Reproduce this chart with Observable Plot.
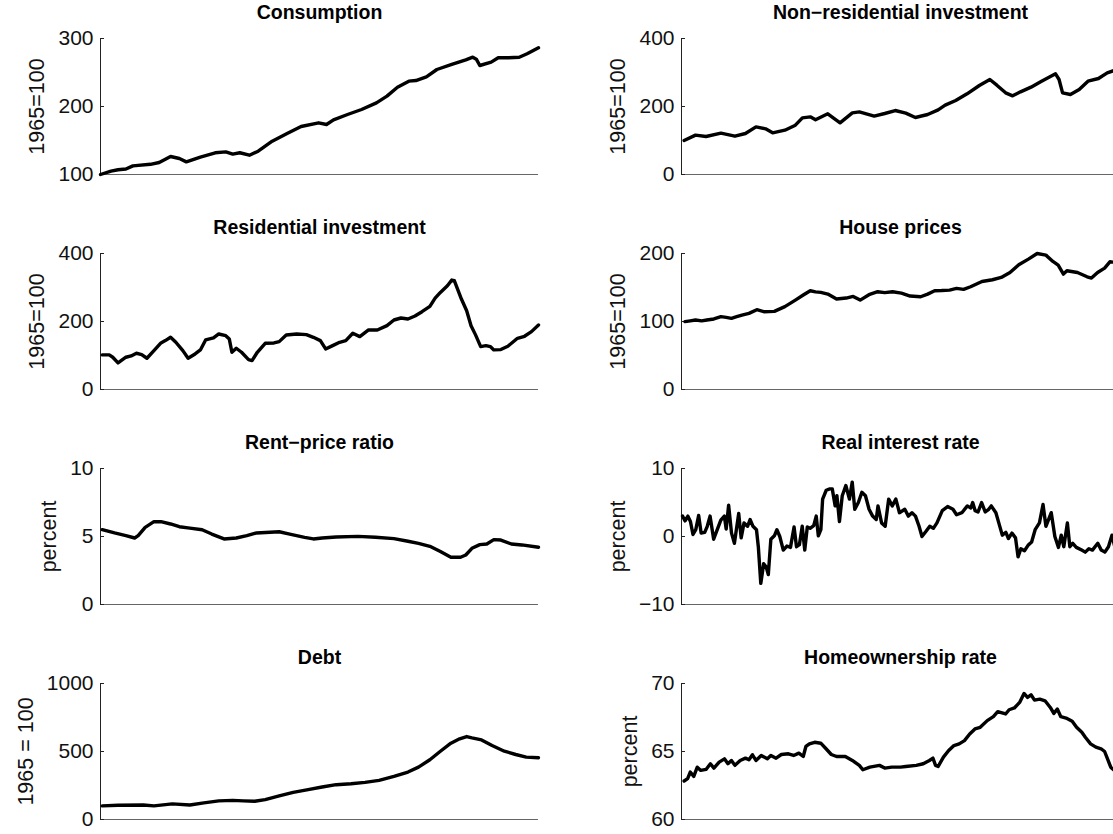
<!DOCTYPE html>
<html><head><meta charset="utf-8">
<script src="https://cdn.jsdelivr.net/npm/d3@7"></script>
<script src="https://cdn.jsdelivr.net/npm/@observablehq/plot@0.6"></script>
<style>
html,body{margin:0;padding:0;background:#fff;overflow:hidden;}
#chart{position:relative;width:1113px;height:834px;overflow:hidden;background:#fff;}
#chart svg{position:absolute;overflow:visible;}
</style></head><body><div id="chart"></div>
<script>
// ---------- data (decimal years, values) ----------
const consumptionYears = [1965.0,1966.2,1967.0,1967.9,1968.7,1970.7,1971.7,1973.0,1974.0,1974.8,1976.4,1978.1,1979.3,1980.1,1980.9,1982.0,1983.0,1984.6,1986.3,1987.9,1989.9,1990.8,1991.6,1993.2,1994.8,1996.5,1997.7,1998.9,2000.2,2001.0,2002.2,2003.4,2005.1,2006.7,2007.5,2007.9,2008.3,2009.6,2010.4,2011.6,2012.8,2013.7,2015.0];
const consumptionValues = [100,104.9,107,108,112.7,115,117.6,126.5,123.5,118.6,125.5,131.9,133.3,130,132,128.4,134.3,149,160.3,170.6,176,173.5,180.4,188.2,195.6,205.4,215.2,228.4,237.3,238.2,243.6,254.4,261.8,268.6,272.5,269.6,260.3,265.2,271.6,271.6,272.5,277.5,286.3];

const nonresYears = [1965.3,1966.6,1967.8,1969.5,1971.1,1972.3,1973.5,1974.6,1975.4,1976.8,1978.0,1978.8,1979.7,1980.3,1981.7,1983.1,1984.5,1985.3,1987.0,1988.2,1989.4,1990.6,1991.7,1993.1,1994.3,1995.1,1996.3,1997.6,1999.0,2000.2,2001.0,2002.0,2002.8,2003.7,2004.9,2006.1,2007.7,2008.1,2008.5,2009.4,2010.4,2011.4,2012.6,2013.6,2014.4,2015.0];
const nonresValues = [100,115.7,111.8,121.6,112.7,120.6,140.2,134.3,122.5,130.4,145,166.7,169.6,160.8,178.4,152,181.4,184.3,171.6,179.4,188.2,180.4,167.6,176.5,190.2,203.9,217.6,237.3,261.8,279.4,262.7,240.2,231.4,243.1,256.9,274.5,296.1,279.4,240.2,235.3,250,274.5,282.4,299,305.9,296];

const resYears = [1965.2,1966.0,1966.4,1967.0,1967.9,1968.5,1969.1,1969.7,1970.3,1971.1,1971.9,1972.4,1973.0,1973.6,1974.4,1975.0,1975.8,1976.4,1977.0,1977.9,1978.5,1979.3,1979.7,1980.0,1980.5,1981.1,1981.9,1982.3,1982.9,1983.8,1984.8,1985.4,1986.2,1987.4,1988.5,1989.3,1990.1,1990.7,1991.5,1992.3,1993.0,1993.8,1994.6,1995.6,1996.6,1997.7,1998.5,1999.3,2000.1,2000.9,2001.7,2002.6,2003.2,2003.8,2004.6,2005.1,2005.4,2006.2,2006.8,2007.3,2007.8,2008.4,2009.0,2009.5,2009.9,2010.7,2011.5,2012.6,2013.4,2014.2,2015.0];
const resValues = [101.7,101.7,94.9,78.2,94.9,98.8,106.6,102.7,91.9,114.4,136.9,143.8,153.5,138.9,114.4,91.9,104.6,116.4,145.7,151.6,163.3,158.4,148.7,109.5,121.3,109.5,88,85.1,109.5,135.9,136.9,140.8,160.4,163.3,161.4,153.5,143.8,119.3,129.1,138.9,143.8,165.3,155.5,175.1,175.1,187.8,204.4,210.3,207.3,216.1,228.8,244.5,269,285.6,305.1,321.8,319.8,266,231.8,187.8,161.4,126.2,129.1,126.2,116.4,117.4,127.1,150.6,156.5,170.2,189.7];

const houseYears = [1965.4,1966.0,1966.6,1967.3,1967.9,1968.7,1969.5,1970.1,1970.7,1971.3,1971.9,1972.7,1973.6,1974.4,1975.6,1976.8,1978.0,1978.9,1979.7,1980.3,1980.9,1981.7,1982.7,1983.8,1984.6,1985.4,1986.4,1987.4,1988.2,1989.1,1990.1,1991.1,1992.3,1993.1,1993.9,1994.7,1995.6,1996.4,1997.2,1998.0,1999.3,2000.5,2001.5,2002.5,2003.5,2004.6,2005.6,2006.6,2007.4,2008.0,2008.6,2009.0,2010.2,2011.3,2011.8,2012.5,2013.3,2013.9,2014.7,2015.0];
const houseValues = [99.8,101,102.2,101,102.2,103.7,107.1,106,104.6,107,109.5,112,117.4,114.4,114.9,121.8,131.5,138.9,145.2,143.5,142.8,140.3,133,134.5,136.9,131.5,139.4,143.8,142.5,143.8,141.8,137.4,136.4,140.3,145.2,145.5,146.2,148.7,147.2,151.1,158.9,161.4,164.8,172.1,183.4,191.7,200,197.6,188.3,182.9,169.7,174.6,172.1,165.8,163.8,172.1,178.5,187.8,186.8,199];

const rentYears = [1965.2,1966.6,1967.9,1968.9,1969.3,1970.1,1971.1,1971.9,1973.0,1974.0,1975.2,1976.6,1977.7,1979.1,1980.5,1981.7,1982.8,1985.4,1986.6,1988.3,1989.3,1990.3,1991.9,1994.4,1996.4,1998.5,2000.1,2001.3,2002.6,2003.8,2005.0,2006.1,2006.7,2007.4,2008.3,2009.1,2009.9,2010.7,2011.9,2013.1,2015.0];
const rentValues = [5.5,5.26,5.06,4.89,5.06,5.67,6.09,6.09,5.92,5.72,5.62,5.5,5.18,4.82,4.89,5.06,5.26,5.35,5.18,4.94,4.82,4.89,4.96,5.01,4.94,4.84,4.65,4.5,4.28,3.89,3.47,3.47,3.64,4.13,4.4,4.45,4.77,4.74,4.45,4.38,4.21];

const rateYears = [1965.12,1965.41,1965.73,1966.02,1966.31,1966.63,1966.96,1967.24,1967.65,1967.94,1968.26,1968.67,1969.08,1969.49,1969.89,1970.10,1970.38,1970.71,1971.04,1971.53,1971.81,1972.14,1972.54,1972.83,1973.16,1973.56,1973.77,1974.05,1974.38,1974.67,1974.91,1975.20,1975.60,1975.89,1976.22,1976.62,1977.03,1977.44,1977.85,1978.13,1978.46,1978.78,1979.07,1979.36,1979.68,1980.09,1980.38,1980.62,1980.91,1981.11,1981.52,1981.93,1982.21,1982.54,1982.74,1983.03,1983.35,1983.76,1984.17,1984.49,1984.78,1985.19,1985.59,1986.00,1986.41,1986.82,1987.23,1987.43,1987.84,1988.25,1988.65,1989.06,1989.47,1989.88,1990.49,1990.90,1991.31,1991.71,1992.12,1992.45,1992.94,1993.34,1993.75,1994.16,1994.77,1995.38,1995.99,1996.40,1997.01,1997.63,1998.03,1998.24,1998.52,1998.85,1999.26,1999.67,2000.07,2000.36,2000.89,2001.22,2001.62,2002.03,2002.32,2002.72,2003.13,2003.42,2003.74,2004.15,2004.56,2004.97,2005.37,2005.86,2006.27,2006.60,2007.21,2007.62,2008.03,2008.35,2008.64,2009.05,2009.33,2009.66,2010.07,2010.68,2011.09,2011.50,2011.91,2012.52,2012.92,2013.33,2013.74,2014.14,2014.55,2015.0];
const rateValues = [3.0,2.3,3.0,2.2,0.3,1.0,3.1,0.5,0.6,1.5,3.0,-0.4,1.0,2.4,3.0,1.1,4.6,0.5,-1.0,3.4,-0.2,2.0,1.5,2.5,1.5,1.0,-1.5,-6.9,-4.0,-4.5,-5.6,-0.4,0.1,1.0,0.0,-2.0,-1.4,-1.6,1.4,-1.5,-1.2,1.5,-2.0,1.4,1.2,1.6,3.0,0.1,1.0,5.5,6.8,7.0,7.0,4.5,6.0,2.2,6.0,7.5,5.5,8.0,4.0,5.0,6.5,6.0,4.0,3.0,2.5,4.5,2.0,1.5,5.5,4.5,5.5,3.5,4.0,3.0,3.5,3.0,1.5,0.0,0.8,1.5,1.2,2.0,3.8,4.4,4.0,3.2,3.5,4.5,4.2,5.0,3.8,3.6,5.0,3.6,4.0,4.5,3.5,2.0,0.2,0.6,-0.3,0.5,-0.2,-3.0,-1.8,-2.1,-1.3,-0.8,1.0,2.0,4.7,1.5,3.5,0.0,-1.6,0.2,-1.5,2.0,-1.5,-1.0,-1.6,-2.0,-2.3,-1.8,-2.0,-1.0,-2.0,-2.3,-1.5,0.2,-2.0,-0.4];

const debtYears = [1965.2,1967.0,1969.9,1971.1,1973.2,1975.2,1976.8,1978.5,1980.1,1981.3,1982.6,1983.8,1985.4,1987.0,1988.7,1990.3,1991.9,1993.6,1995.2,1996.8,1998.5,2000.1,2001.3,2002.6,2003.8,2005.0,2006.0,2006.8,2007.4,2008.5,2009.7,2011.1,2012.4,2013.6,2015.0];
const debtValues = [100,105,107,100,115,107,122,137,141,137,134,146,173,200,220,239,256,263,273,288,317,349,385,439,502,561,593,610,600,585,544,502,478,459,454];

const ownYears = [1965.3,1965.7,1966.0,1966.4,1966.8,1967.2,1967.8,1968.3,1968.7,1969.3,1969.9,1970.3,1970.7,1971.1,1971.7,1972.3,1972.7,1973.1,1973.5,1974.1,1974.8,1975.2,1975.8,1976.4,1977.2,1977.8,1978.4,1978.9,1979.2,1979.6,1980.2,1980.9,1981.5,1982.1,1982.7,1983.7,1984.5,1985.3,1985.7,1986.5,1987.6,1988.2,1989.0,1990.0,1990.6,1991.8,1992.6,1993.3,1993.7,1994.0,1994.3,1994.9,1995.5,1996.1,1996.7,1997.3,1997.9,1998.5,1999.1,1999.9,2000.6,2001.1,2002.0,2002.4,2003.0,2003.6,2004.1,2004.5,2004.9,2005.3,2005.9,2006.5,2007.1,2007.5,2007.9,2008.3,2008.9,2009.6,2010.1,2010.7,2011.1,2011.7,2012.3,2012.9,2013.3,2013.7,2014.0,2014.4,2015.0];
const ownValues = [62.83,63.0,63.49,63.17,63.85,63.61,63.68,64.1,63.78,64.22,64.46,64.1,64.34,63.98,64.34,64.51,64.39,64.76,64.34,64.71,64.46,64.71,64.51,64.78,64.83,64.71,64.88,64.63,65.37,65.56,65.68,65.61,65.2,64.78,64.63,64.63,64.34,63.98,63.66,63.85,63.98,63.78,63.85,63.85,63.9,63.98,64.1,64.34,64.51,63.98,63.9,64.59,65.07,65.44,65.56,65.8,66.29,66.66,66.78,67.27,67.56,67.93,67.76,68.07,68.2,68.61,69.27,68.98,69.17,68.78,68.85,68.73,68.24,67.8,68.12,67.56,67.46,67.22,66.78,66.41,66.05,65.56,65.32,65.2,65.0,64.34,63.85,63.61,63.66];

const titles = ["Consumption","Non\u2212residential investment","Residential investment","House prices","Rent\u2212price ratio","Real interest rate","Debt","Homeownership rate"];
const yLabels = ["1965=100","1965=100","1965=100","1965=100","percent","percent","1965 = 100","percent"];
const yTicks = [[100,200,300],[0,200,400],[0,200,400],[0,100,200],[0,5,10],[-10,0,10],[0,500,1000],[60,65,70]];
const xDomain = [1965, 2015];

const seriesYears = [consumptionYears,nonresYears,resYears,houseYears,rentYears,rateYears,debtYears,ownYears];
const seriesValues = [consumptionValues,nonresValues,resValues,houseValues,rentValues,rateValues,debtValues,ownValues];

// ---------- layout ----------
const FONT = "Liberation Sans, Arial, Helvetica, sans-serif";
const frameW = 438, frameH = 136;
const mL = 110, mT = 40, mB = 14, mR = 10;
const colLeft = [100 - mL, 681 - mL];
const rowTop = [38 - mT, 253 - mT, 468 - mT, 683 - mT];
const tickFont = 21, labelFont = 21.5, titleFont = 19.5;

const ctx = document.createElement("canvas").getContext("2d");
ctx.font = `${tickFont}px ${FONT}`;
const minusFmt = d => (d < 0 ? "\u2212" + Math.abs(d) : String(d));

const chart = document.getElementById("chart");
titles.forEach((title, i) => {
  const data = seriesYears[i].map((t, j) => ({t, v: seriesValues[i][j]}));
  const ticks = yTicks[i];
  const yDomain = [ticks[0], ticks[ticks.length - 1]];
  const maxW = d3.max(ticks, d => ctx.measureText(minusFmt(d)).width);
  const labelOffset = maxW + 7 + 21;
  const svg = Plot.plot({
    width: mL + frameW + mR,
    height: mT + frameH + mB,
    marginLeft: mL, marginRight: mR, marginTop: mT, marginBottom: mB,
    style: {fontFamily: FONT, background: "transparent", overflow: "visible"},
    x: {domain: xDomain, axis: null},
    y: {domain: yDomain, axis: null},
    marks: [
      Plot.ruleY([yDomain[0]], {stroke: "#666", strokeWidth: 1.2}),
      Plot.ruleX([xDomain[0]], {stroke: "#222", strokeWidth: 1}),
      Plot.tickY(ticks, {y: d => d, stroke: "#222", strokeWidth: 1, insetRight: frameW - 4}),
      Plot.axisY(ticks, {anchor: "left", tickSize: 0, tickPadding: 7, tickFormat: minusFmt, label: null, fontSize: tickFont, fill: "#111"}),
      Plot.lineY(data, {x: "t", y: "v", stroke: "#000", strokeWidth: 3.4, strokeLinejoin: "round", strokeLinecap: "round"}),
      Plot.text([title], {frameAnchor: "top", lineAnchor: "middle", dy: -26, text: d => d, fontWeight: "bold", fontSize: titleFont, fill: "#000"}),
      Plot.text([yLabels[i]], {frameAnchor: "left", lineAnchor: "middle", textAnchor: "middle", rotate: -90, dx: -labelOffset, text: d => d, fontSize: labelFont, fill: "#111"})
    ]
  });
  const col = i % 2, row = Math.floor(i / 2);
  svg.style.left = colLeft[col] + "px";
  svg.style.top = rowTop[row] + "px";
  chart.appendChild(svg);
});
</script>
</body></html>
